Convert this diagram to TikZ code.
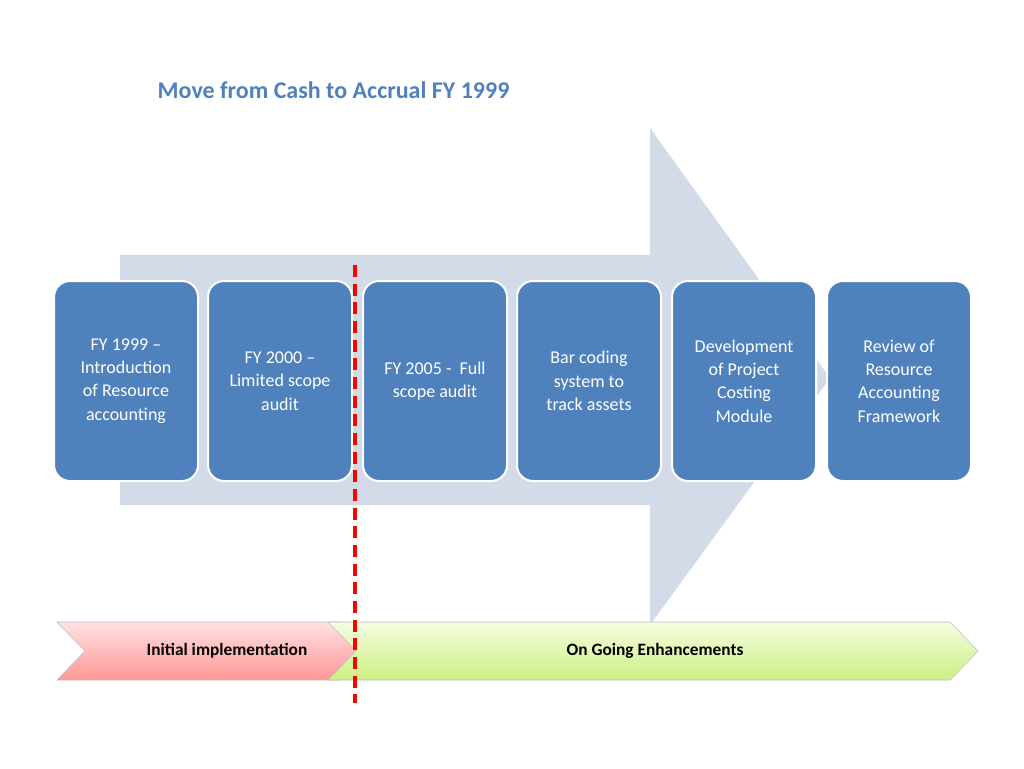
\documentclass[tikz,border=0pt]{standalone}
\usepackage{fontspec}
\setmainfont{Carlito}
\definecolor{bluebox}{RGB}{79,129,189}
\definecolor{arrowbg}{RGB}{211,218,232}
\definecolor{pinkT}{RGB}{255,225,225}
\definecolor{pinkB}{RGB}{255,150,150}
\definecolor{greenT}{RGB}{245,252,225}
\definecolor{greenB}{RGB}{205,240,130}
\definecolor{edge}{RGB}{190,190,190}
\begin{document}
\begin{tikzpicture}[x=0.75pt,y=-0.75pt,
  box/.style={draw=white,line width=1.5pt,fill=bluebox,rounded corners=12pt,minimum width=108pt,minimum height=150pt,text=white,align=center,font=\fontsize{13.5}{17.5}\selectfont,inner sep=2pt},
  lbl/.style={font=\bfseries\fontsize{13}{15}\selectfont}]
\useasboundingbox (0,0) rectangle (1024,768);
\fill[arrowbg] (120,255) -- (650,255) -- (650,128) -- (830,378) -- (650,625) -- (650,505) -- (120,505) -- cycle;
\node[anchor=west,text=bluebox,font=\bfseries\fontsize{18}{22}\selectfont] (title) at (153,90) {Move from Cash to Accrual FY 1999};
\node[box] (b1) at (126,381) {FY 1999 --\\Introduction\\of Resource\\accounting};
\node[box] (b2) at (280,381) {FY 2000 --\\Limited scope\\audit};
\node[box] (b3) at (435,381) {FY 2005 -\ \ Full\\scope audit};
\node[box] (b4) at (589,381) {Bar coding\\system to\\track assets};
\node[box] (b5) at (744,381) {Development\\of Project\\Costing\\Module};
\node[box] (b6) at (899,381) {Review of\\Resource\\Accounting\\Framework};
\shade[top color=pinkT,bottom color=pinkB,draw=edge] (57,622) -- (340,622) -- (368,651) -- (340,680) -- (57,680) -- (85,651) -- cycle;
\shade[top color=greenT,bottom color=greenB,draw=edge] (328,622) -- (950,622) -- (978,651) -- (950,680) -- (328,680) -- (356,651) -- cycle;
\node[lbl] (l1) at (227,651) {Initial implementation};
\node[lbl] (l2) at (655,651) {On Going Enhancements};
\coordinate (dt) at (355,265);
\coordinate (db) at (355,703);
\draw[red,line width=3pt,dash pattern=on 9pt off 5pt] (dt) -- (db);
\end{tikzpicture}
\end{document}
